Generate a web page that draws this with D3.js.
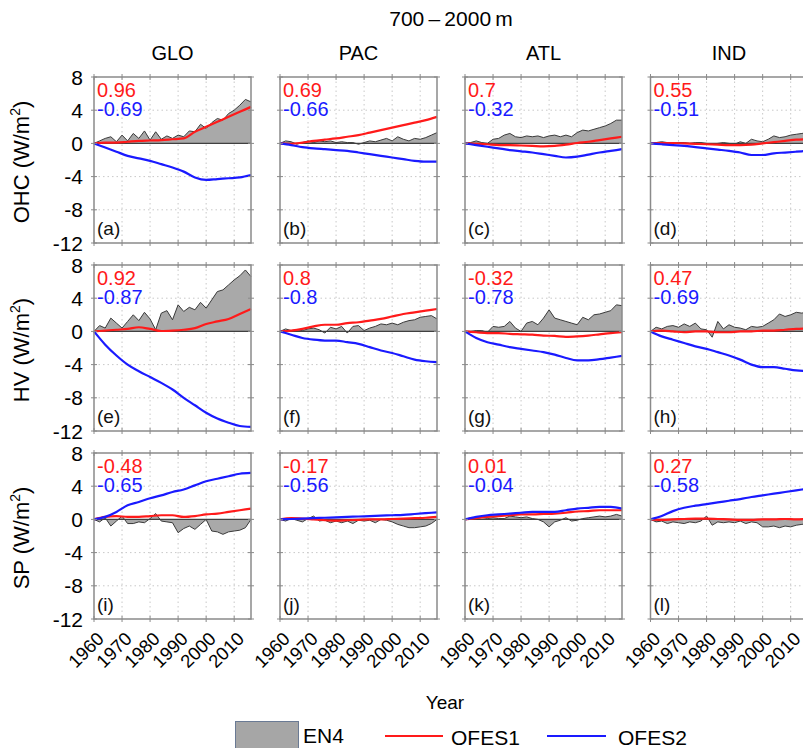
<!DOCTYPE html>
<html><head><meta charset="utf-8">
<script src="https://cdn.jsdelivr.net/npm/d3@7/dist/d3.min.js"></script>
<style>body{margin:0;background:#fff} svg{display:block;font-family:"Liberation Sans",Arial,sans-serif}</style>
</head><body><svg id="c" width="803" height="748"></svg>
<script>
// ---------- DATA ----------
const regions = ["GLO", "PAC", "ATL", "IND"];
const rowNames = ["OHC", "HV", "SP"];
const yTicks = [8, 4, 0, -4, -8, -12];
const xTicks = [1960, 1970, 1980, 1990, 2000, 2010];
const yearsEN4 = [1960,1962,1964,1966,1968,1970,1972,1974,1976,1978,1980,1982,1984,1986,1988,1990,1992,1994,1996,1998,2000,2002,2004,2006,2008,2010,2012,2014,2016];
const yearsOFES = [1960,1964,1968,1972,1976,1980,1984,1988,1992,1996,2000,2004,2008,2012,2016];

// OHC
const en4_OHC_GLO = [0,0.3,0.6,0.8,0.2,1.0,0.3,1.2,0.6,1.5,0.4,1.4,0.5,0.9,0.6,1.0,0.8,1.5,1.4,2.3,1.8,2.5,3.0,2.8,3.6,4.0,4.6,5.3,5.0];
const en4_OHC_PAC = [0,0.3,0.2,-0.1,0.1,0.3,0.1,0.3,0.2,0.3,0.1,0.2,0.1,0.1,-0.1,0.1,0.3,0.2,0.4,0.6,0.3,0.8,0.5,0.3,0.6,0.5,0.7,1.0,1.3];
const en4_OHC_ATL = [0,0.1,0.3,0.1,0.0,0.5,0.6,1.0,1.2,0.8,0.7,0.9,0.8,0.9,0.7,0.9,1.0,0.8,1.0,0.8,1.3,1.6,1.5,1.7,1.9,2.1,2.4,2.8,2.8];
const en4_OHC_IND = [0,0.1,0.2,0.1,0.0,0.1,0.1,0.0,0.1,0.1,0.0,-0.1,0.0,0.1,0.0,-0.1,0.2,0.0,0.5,0.3,0.2,0.5,0.9,0.7,0.8,1.0,1.1,1.2,1.3];
const ofes1_OHC_GLO = [0,0.1,0.1,0.2,0.3,0.35,0.4,0.5,0.6,1.4,2.0,2.6,3.2,3.8,4.4];
const ofes1_OHC_PAC = [0,-0.05,0.1,0.3,0.45,0.6,0.8,1.0,1.3,1.6,1.9,2.2,2.5,2.8,3.2];
const ofes1_OHC_ATL = [0,-0.05,-0.1,-0.2,-0.2,-0.25,-0.3,-0.35,-0.3,-0.15,0.05,0.2,0.4,0.6,0.8];
const ofes1_OHC_IND = [0,0.05,0.05,0.0,-0.05,-0.1,-0.15,-0.2,-0.2,-0.15,0.0,0.15,0.3,0.45,0.5];
const ofes2_OHC_GLO = [0,-0.5,-1.0,-1.5,-1.8,-2.1,-2.5,-2.9,-3.4,-4.1,-4.4,-4.3,-4.2,-4.1,-3.8];
const ofes2_OHC_PAC = [0,-0.2,-0.45,-0.6,-0.7,-0.8,-0.9,-1.1,-1.3,-1.5,-1.7,-1.9,-2.1,-2.2,-2.2];
const ofes2_OHC_ATL = [0,-0.2,-0.4,-0.6,-0.8,-0.95,-1.1,-1.3,-1.5,-1.7,-1.6,-1.35,-1.1,-0.9,-0.7];
const ofes2_OHC_IND = [0,-0.1,-0.2,-0.3,-0.45,-0.6,-0.75,-0.9,-1.1,-1.4,-1.4,-1.2,-1.1,-1.0,-0.9];

// HV
const en4_HV_GLO = [0,0.7,0.4,1.6,1.0,0.4,1.2,2.0,1.3,2.3,1.5,0.2,2.2,2.5,1.4,3.2,2.4,2.9,2.6,3.5,2.8,3.8,4.8,5.0,5.6,6.2,6.7,7.4,6.6];
const en4_HV_PAC = [0,0.3,0.1,0.2,0.1,0.3,0.4,0.2,-0.2,0.5,0.3,0.6,-0.2,0.6,0.7,0.1,0.4,0.6,0.9,0.8,1.0,0.8,1.1,1.3,1.4,1.7,1.8,1.9,1.5];
const en4_HV_ATL = [0,0.0,0.1,0.1,-0.1,0.6,0.5,0.6,1.2,0.4,0.0,1.0,1.2,0.8,1.6,2.6,1.6,1.4,1.2,1.0,0.8,1.7,1.4,2.0,2.1,2.3,2.5,3.2,3.1];
const en4_HV_IND = [0,0.5,0.3,0.6,0.7,0.5,0.9,0.6,1.0,0.3,0.2,-0.7,1.2,0.3,0.8,0.5,0.4,0.2,0.6,0.5,0.6,1.0,1.4,2.1,1.8,2.0,2.3,2.2,2.4];
const ofes1_HV_GLO = [0,0.1,0.2,0.3,0.5,0.3,0.05,0.1,0.2,0.4,0.9,1.2,1.5,2.1,2.7];
const ofes1_HV_PAC = [0,0.1,0.3,0.6,0.8,0.8,1.0,1.1,1.3,1.5,1.8,2.1,2.3,2.5,2.7];
const ofes1_HV_ATL = [0,-0.1,-0.2,-0.2,-0.3,-0.35,-0.4,-0.5,-0.55,-0.65,-0.6,-0.5,-0.35,-0.2,-0.1];
const ofes1_HV_IND = [0,0.1,0.0,-0.1,0.0,0.0,-0.1,-0.1,0.0,0.0,0.1,0.1,0.2,0.3,0.35];
const ofes2_HV_GLO = [0,-1.6,-2.9,-4.0,-4.8,-5.5,-6.2,-7.0,-8.0,-8.9,-9.8,-10.5,-11.0,-11.4,-11.5];
const ofes2_HV_PAC = [0,-0.4,-0.8,-1.0,-1.1,-1.1,-1.3,-1.5,-1.9,-2.3,-2.6,-3.0,-3.4,-3.6,-3.7];
const ofes2_HV_ATL = [0,-0.8,-1.3,-1.6,-1.9,-2.1,-2.3,-2.5,-2.8,-3.2,-3.5,-3.5,-3.35,-3.15,-2.95];
const ofes2_HV_IND = [0,-0.6,-1.0,-1.4,-1.8,-2.1,-2.5,-2.9,-3.4,-4.0,-4.3,-4.3,-4.5,-4.7,-4.8];

// SP
const en4_SP_GLO = [0,-0.3,0.2,-0.8,-0.2,0.4,-0.5,-0.5,-0.3,-0.4,0.1,0.7,-0.2,-0.3,-0.4,-1.6,-1.1,-0.8,-1.2,-0.6,0.0,-1.4,-1.5,-1.8,-1.5,-1.4,-1.3,-1.0,0.0];
const en4_SP_PAC = [0,-0.2,0.1,-0.1,-0.3,0.1,0.4,-0.2,-0.1,-0.4,-0.2,-0.4,-0.2,-0.5,-0.1,-0.2,-0.1,-0.4,0.0,-0.1,-0.3,-0.6,-0.8,-1.0,-1.0,-0.9,-0.8,-0.5,0.0];
const en4_SP_ATL = [0,0.2,0.1,0.0,0.1,0.2,0.1,0.1,0.4,0.3,0.2,0.3,0.1,0.0,-0.3,-0.9,-0.3,-0.1,0.2,-0.2,-0.1,0.1,0.2,0.3,0.4,0.3,0.4,0.6,0.4];
const en4_SP_IND = [0,-0.3,-0.2,-0.5,-0.3,-0.4,-0.5,-0.3,-0.4,-0.2,0.4,-0.7,-0.3,-0.4,-0.3,-0.4,-0.2,-0.5,-0.3,-0.4,-0.9,-0.9,-0.8,-1.0,-0.8,-0.9,-0.7,-0.6,-0.5];
const ofes1_SP_GLO = [0,0.3,0.4,0.3,0.3,0.4,0.5,0.5,0.3,0.4,0.6,0.7,0.9,1.1,1.3];
const ofes1_SP_PAC = [0,0.15,0.1,0.0,-0.1,-0.15,-0.1,-0.05,0.0,0.0,0.05,0.1,0.15,0.2,0.3];
const ofes1_SP_ATL = [0,0.15,0.3,0.4,0.5,0.6,0.6,0.65,0.7,0.8,0.95,1.0,1.1,1.1,1.1];
const ofes1_SP_IND = [0,-0.05,0.0,0.05,0.1,0.1,0.05,0.0,-0.05,-0.05,0.0,0.0,0.05,0.0,0.05];
const ofes2_SP_GLO = [0,0.3,0.9,1.7,2.1,2.55,2.9,3.3,3.6,4.1,4.6,4.9,5.2,5.5,5.6];
const ofes2_SP_PAC = [0,0.05,0.1,0.15,0.2,0.25,0.3,0.35,0.4,0.45,0.5,0.55,0.65,0.75,0.85];
const ofes2_SP_ATL = [0,0.3,0.5,0.6,0.7,0.8,0.9,0.9,0.9,1.1,1.3,1.4,1.5,1.5,1.3];
const ofes2_SP_IND = [0,0.4,1.0,1.4,1.65,1.85,2.05,2.25,2.45,2.7,2.9,3.1,3.3,3.5,3.7];

// correlation labels
const corr1_OHC = ["0.96", "0.69", "0.7", "0.55"];
const corr1_HV  = ["0.92", "0.8", "-0.32", "0.47"];
const corr1_SP  = ["-0.48", "-0.17", "0.01", "0.27"];
const corr2_OHC = ["-0.69", "-0.66", "-0.32", "-0.51"];
const corr2_HV  = ["-0.87", "-0.8", "-0.78", "-0.69"];
const corr2_SP  = ["-0.65", "-0.56", "-0.04", "-0.58"];
const panelLetters = ["a","b","c","d","e","f","g","h","i","j","k","l"];

// ---------- TABLES ----------
const en4 = {OHC:[en4_OHC_GLO,en4_OHC_PAC,en4_OHC_ATL,en4_OHC_IND], HV:[en4_HV_GLO,en4_HV_PAC,en4_HV_ATL,en4_HV_IND], SP:[en4_SP_GLO,en4_SP_PAC,en4_SP_ATL,en4_SP_IND]};
const ofes1 = {OHC:[ofes1_OHC_GLO,ofes1_OHC_PAC,ofes1_OHC_ATL,ofes1_OHC_IND], HV:[ofes1_HV_GLO,ofes1_HV_PAC,ofes1_HV_ATL,ofes1_HV_IND], SP:[ofes1_SP_GLO,ofes1_SP_PAC,ofes1_SP_ATL,ofes1_SP_IND]};
const ofes2 = {OHC:[ofes2_OHC_GLO,ofes2_OHC_PAC,ofes2_OHC_ATL,ofes2_OHC_IND], HV:[ofes2_HV_GLO,ofes2_HV_PAC,ofes2_HV_ATL,ofes2_HV_IND], SP:[ofes2_SP_GLO,ofes2_SP_PAC,ofes2_SP_ATL,ofes2_SP_IND]};
const corr1 = {OHC:corr1_OHC, HV:corr1_HV, SP:corr1_SP};
const corr2 = {OHC:corr2_OHC, HV:corr2_HV, SP:corr2_SP};

// ---------- LAYOUT ----------
const colLeft = [94, 280, 465, 650.5];
const rowTop = [77, 265, 453];
const pw = 157, ph = 166;
const RED = "#ff1a1a", BLUE = "#1a1aff";
const FS = 20;

const svg = d3.select("#c");
const x = d3.scaleLinear().domain([1960, 2016]).range([0, pw]);
const y = d3.scaleLinear().domain([-12, 8]).range([ph, 0]);

svg.append("text").attr("x", 451).attr("y", 26).attr("text-anchor", "middle")
  .attr("font-size", 21).text("700\u2009\u2013\u20092000\u2009m");

regions.forEach((r, c) => {
  svg.append("text").attr("x", colLeft[c] + pw / 2).attr("y", 60)
    .attr("text-anchor", "middle").attr("font-size", FS).text(r);
});

rowNames.forEach((rn, ri) => {
  // row label
  const lab = svg.append("text")
    .attr("transform", `translate(29,${rowTop[ri] + ph / 2 + 2}) rotate(-90)`)
    .attr("text-anchor", "middle").attr("font-size", 22);
  lab.append("tspan").text(rn + " (W/m");
  lab.append("tspan").attr("font-size", 14).attr("dy", -9).text("2");
  lab.append("tspan").attr("dy", 9).text(")");

  regions.forEach((r, c) => {
    const g = svg.append("g").attr("transform", `translate(${colLeft[c]},${rowTop[ri]})`);
    // grid
    g.append("g").selectAll("line").data(xTicks.slice(1)).join("line")
      .attr("x1", d => x(d)).attr("x2", d => x(d)).attr("y1", 0).attr("y2", ph)
      .attr("stroke", "#c8c8c8").attr("stroke-width", 1).attr("stroke-dasharray", "1.5,3");
    g.append("g").selectAll("line").data(yTicks.filter(t => t !== 8 && t !== -12 && t !== 0)).join("line")
      .attr("x1", 0).attr("x2", pw).attr("y1", d => y(d)).attr("y2", d => y(d))
      .attr("stroke", "#c8c8c8").attr("stroke-width", 1).attr("stroke-dasharray", "1.5,3");

    // EN4 area
    const e = en4[rn][c].map((v, i) => [yearsEN4[i], v]);
    g.append("path").datum(e)
      .attr("d", d3.area().x(d => x(d[0])).y0(y(0)).y1(d => y(d[1])))
      .attr("fill", "#a9a9a9");
    g.append("path").datum(e)
      .attr("d", d3.line().x(d => x(d[0])).y(d => y(d[1])))
      .attr("fill", "none").attr("stroke", "#3a3a3a").attr("stroke-width", 1);
    // zero line
    g.append("line").attr("x1", 0).attr("x2", pw).attr("y1", y(0)).attr("y2", y(0))
      .attr("stroke", "#404040").attr("stroke-width", 1.2);
    // OFES lines
    const line = d3.line().x(d => x(d[0])).y(d => y(d[1])).curve(d3.curveMonotoneX);
    g.append("path").datum(ofes1[rn][c].map((v, i) => [yearsOFES[i], v]))
      .attr("d", line).attr("fill", "none").attr("stroke", RED).attr("stroke-width", 2.2);
    g.append("path").datum(ofes2[rn][c].map((v, i) => [yearsOFES[i], v]))
      .attr("d", line).attr("fill", "none").attr("stroke", BLUE).attr("stroke-width", 2.2);

    // frame
    g.append("rect").attr("width", pw).attr("height", ph)
      .attr("fill", "none").attr("stroke", "#8a8a8a").attr("stroke-width", 1.5);
    // ticks on all sides (in & out)
    const tk = g.append("g").attr("stroke", "#8a8a8a").attr("stroke-width", 1);
    xTicks.forEach(t => {
      tk.append("line").attr("x1", x(t)).attr("x2", x(t)).attr("y1", -3).attr("y2", 3);
      tk.append("line").attr("x1", x(t)).attr("x2", x(t)).attr("y1", ph - 3).attr("y2", ph + 3);
    });
    yTicks.forEach(t => {
      tk.append("line").attr("x1", -3).attr("x2", 3).attr("y1", y(t)).attr("y2", y(t));
      tk.append("line").attr("x1", pw - 3).attr("x2", pw + 3).attr("y1", y(t)).attr("y2", y(t));
    });

    // y tick labels (first column)
    if (c === 0) {
      g.append("g").selectAll("text").data(yTicks).join("text")
        .attr("x", -11).attr("y", d => y(d)).attr("dy", "0.36em")
        .attr("text-anchor", "end").attr("font-size", 21).text(d => d);
    }
    // x tick labels (bottom row)
    if (ri === 2) {
      g.append("g").selectAll("text").data(xTicks).join("text")
        .attr("transform", d => `translate(${x(d) + 11},${ph + 21}) rotate(-45)`)
        .attr("text-anchor", "end").attr("font-size", 18.5).text(d => d);
    }

    // correlations
    g.append("text").attr("x", 3).attr("y", 20).attr("font-size", FS).attr("fill", RED).text(corr1[rn][c]);
    g.append("text").attr("x", 3).attr("y", 39).attr("font-size", FS).attr("fill", BLUE).text(corr2[rn][c]);
    // panel letter
    g.append("text").attr("x", 3).attr("y", ph - 8).attr("font-size", 19).attr("fill", "#111")
      .text("(" + panelLetters[ri * 4 + c] + ")");
  });
});

// x label
svg.append("text").attr("x", 445).attr("y", 709).attr("text-anchor", "middle").attr("font-size", 19).text("Year");

// legend
svg.append("rect").attr("x", 235.5).attr("y", 721.5).attr("width", 63).attr("height", 32)
  .attr("fill", "#a6a6a6").attr("stroke", "#6a7a94").attr("stroke-width", 1);
svg.append("text").attr("x", 303).attr("y", 743).attr("font-size", 21).text("EN4");
svg.append("line").attr("x1", 385).attr("x2", 443).attr("y1", 736).attr("y2", 736).attr("stroke", RED).attr("stroke-width", 2.2);
svg.append("text").attr("x", 451).attr("y", 745).attr("font-size", 21).text("OFES1");
svg.append("line").attr("x1", 547).attr("x2", 606).attr("y1", 736).attr("y2", 736).attr("stroke", BLUE).attr("stroke-width", 2.2);
svg.append("text").attr("x", 618).attr("y", 745).attr("font-size", 21).text("OFES2");
</script></body></html>
